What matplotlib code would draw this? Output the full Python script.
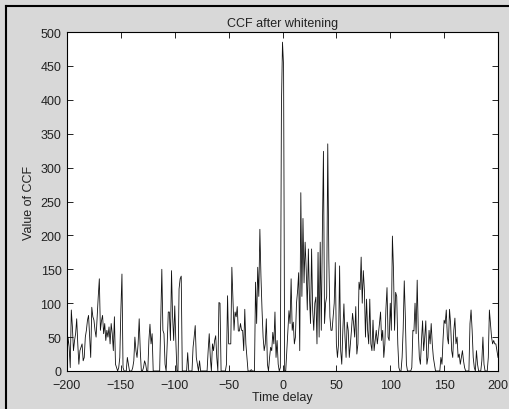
import numpy as np
import matplotlib
matplotlib.use("Agg")
import matplotlib.pyplot as plt
from matplotlib.lines import Line2D

# valores, atraso -200 .. 200 (um por atraso)
ccf_neg = [
    20, 50, 35, 5, 90, 65, 30, 45, 55, 77,          # -200..-191
    40, 10, 30, 35, 40, 15, 20, 50, 60, 75,         # -190..-181
    82, 50, 20, 94, 80, 75, 60, 50, 80, 110,        # -180..-171
    136, 60, 74, 82, 55, 70, 45, 60, 50, 65,        # -170..-161
    40, 70, 55, 30, 80, 10, 5, 0, 5, 20,            # -160..-151
    90, 143, 5, 0, 0, 0, 20, 10, 0, 0,              # -150..-141
    0, 5, 15, 50, 30, 20, 40, 77, 30, 0,            # -140..-131
    0, 5, 15, 10, 0, 0, 45, 69, 40, 55,             # -130..-121
    0, 0, 0, 0, 0, 0, 0, 74, 150, 60,               # -120..-111
    55, 10, 0, 40, 87, 87, 45, 148, 80, 45,         # -110..-101
    96, 45, 0, 0, 121, 136, 140, 0, 0, 0,           # -100..-91
    0, 0, 27, 0, 0, 0, 0, 35, 50, 67,               # -90..-81
    20, 10, 0, 15, 0, 0, 0, 0, 0, 0,                # -80..-71
    0, 30, 55, 20, 0, 40, 30, 45, 52, 20,           # -70..-61
    0, 101, 100, 0, 0, 0, 0, 0, 10, 111,            # -60..-51
    40, 40, 40, 153, 106, 60, 87, 80, 95, 59,       # -50..-41
    59, 70, 60, 60, 30, 91, 40, 20, 0, 0,           # -40..-31
    0, 2, 0, 0, 0, 131, 70, 153, 110, 209,          # -30..-21
    140, 90, 50, 30, 40, 77, 10, 0, 20, 35,         # -20..-11
    30, 57, 40, 87, 20, 45, 10, 0, 5, 390,          # -10..-1
]
ccf_pos = [
    485, 450, 0, 0, 30, 60, 89, 70, 136, 60,        # 0..9
    72, 40, 50, 100, 118, 145, 30, 263, 110, 225,   # 10..19
    130, 190, 150, 90, 180, 110, 70, 180, 90, 60,   # 20..29
    100, 109, 40, 175, 50, 190, 60, 205, 324, 70,   # 30..39
    100, 110, 335, 165, 80, 60, 60, 80, 100, 160,   # 40..49
    40, 20, 40, 155, 30, 10, 60, 99, 50, 20,        # 50..59
    72, 60, 20, 40, 60, 85, 70, 50, 95, 25,         # 60..69
    40, 131, 120, 168, 100, 148, 120, 50, 106, 60,  # 70..79
    40, 106, 40, 30, 75, 30, 45, 60, 40, 55,        # 80..89
    70, 87, 45, 60, 20, 40, 92, 123, 50, 45,        # 90..99
    100, 60, 199, 150, 60, 116, 110, 40, 5, 0,      # 100..109
    0, 20, 62, 133, 80, 10, 0, 0, 0, 0,             # 110..119
    5, 60, 59, 100, 55, 134, 60, 20, 10, 45,        # 120..129
    74, 30, 50, 74, 10, 20, 60, 40, 70, 40,         # 130..139
    20, 10, 0, 0, 0, 0, 0, 20, 10, 47,              # 140..149
    75, 70, 90, 50, 40, 91, 70, 30, 20, 60,         # 150..159
    78, 40, 50, 20, 25, 10, 20, 30, 15, 5,          # 160..169
    0, 0, 0, 0, 70, 90, 60, 20, 5, 0,               # 170..179
    30, 10, 0, 0, 0, 15, 50, 10, 0, 0,              # 180..189
    0, 20, 90, 70, 50, 40, 45, 40, 40, 30,          # 190..199
    20,                                             # 200
]

ccf = np.array(ccf_neg + ccf_pos, dtype=float)
atraso = np.arange(-200, -200 + len(ccf))

plt.rcParams["font.family"] = ["Liberation Sans", "DejaVu Sans"]
plt.rcParams["font.size"] = 9

fundo = "#d8d8d8"
fig = plt.figure(figsize=(5.09, 4.10), dpi=100, facecolor=fundo)
ax = fig.add_axes([67 / 509, 38 / 410, 431 / 509, 339 / 410])
ax.set_facecolor("white")

ax.plot(atraso, ccf, color="#111111", linewidth=0.6)

ax.set_xlim(-200, 200)
ax.set_ylim(0, 500)
ax.set_xticks(np.arange(-200, 201, 50))
ax.set_yticks(np.arange(0, 501, 50))
ax.tick_params(direction="in", length=4, width=0.6, top=True, right=True,
               colors="black", labelcolor="#222222")
ax.tick_params(axis="x", pad=6)
ax.tick_params(axis="y", pad=4)
for lado in ax.spines.values():
    lado.set_linewidth(0.8)
    lado.set_color("black")

ax.set_title("CCF after whitening", fontsize=9, color="#222222", pad=4)
ax.set_xlabel("Time delay", fontsize=9, color="#222222", labelpad=0)
ax.set_ylabel("Value of CCF", fontsize=9, color="#222222", labelpad=4)

# moldura escura da janela (esquerda e topo)
fig.add_artist(Line2D([6 / 509, 6 / 509], [0, 1 - 7 / 410], color="black",
                      linewidth=1.5, transform=fig.transFigure))
fig.add_artist(Line2D([6 / 509, 1], [1 - 7 / 410, 1 - 7 / 410], color="black",
                      linewidth=1.5, transform=fig.transFigure))

fig.savefig("out.png", dpi=100, facecolor=fundo)
